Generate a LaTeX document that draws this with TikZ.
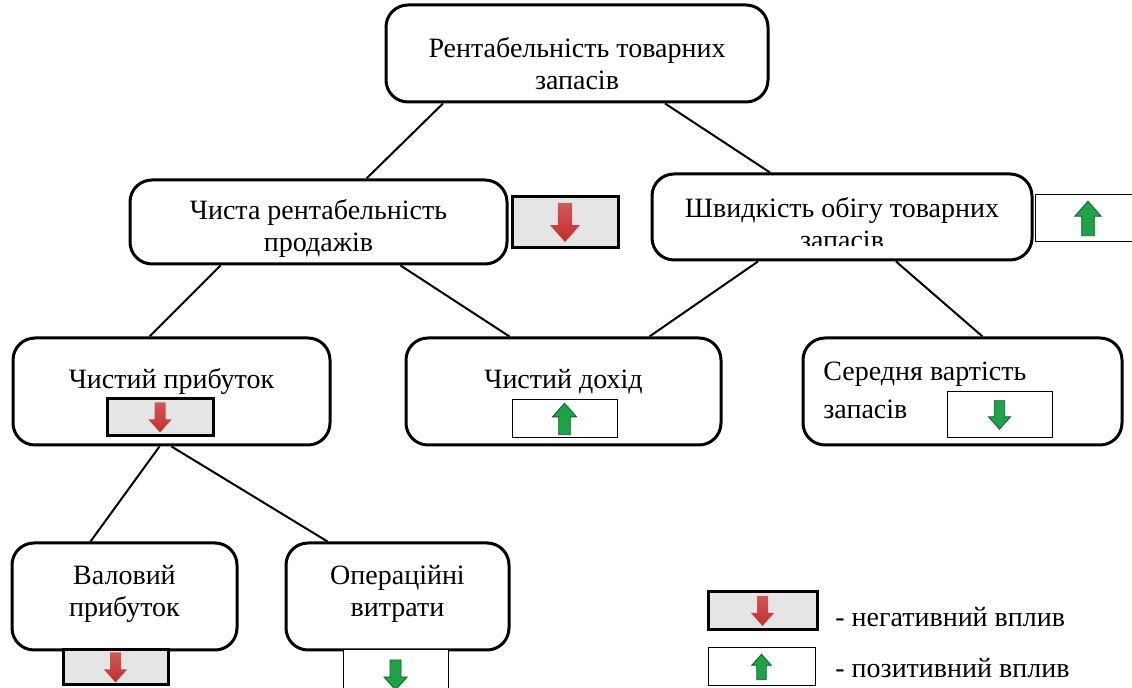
\documentclass[tikz,border=0pt]{standalone}
\usepackage{fontspec}
\setmainfont{Liberation Serif}

\definecolor{arrred}{HTML}{C42E2E}
\definecolor{arrgreen}{HTML}{1FA34A}

% block arrow in an indicator: centre, size, style
\newcommand{\trend}[3]{%
  \draw[shift={(#1)}, scale=#2, #3] (-5.5,-15) -- (5.5,-15) -- (5.5,2) -- (11.5,2)
    -- (0,15) -- (-11.5,2) -- (-5.5,2) -- cycle;}

\tikzset{
  box/.style = {draw, line width=1.5pt, rounded corners=11pt, inner sep=0pt},
  txt/.style = {align=center, inner sep=0pt, font=\fontsize{14}{16}\selectfont},
  negbox/.style = {draw, line width=1.5pt, fill=black!10, inner sep=0pt},
  posbox/.style = {draw, line width=0.5pt, fill=white, inner sep=0pt},
  link/.style = {line width=1pt},
  negarrow/.style = {top color=arrred!80!white, bottom color=arrred, draw=none},
  posarrow/.style = {fill=arrgreen, draw=arrgreen!55!black, line width=0.4pt},
  upward/.style = {yscale=-1}
}

\begin{document}
\begin{tikzpicture}[x=0.5pt, y=-0.5pt]
    \clip (0,0) rectangle (1132,688);

    % boxes
    \node[box, minimum width=191pt, minimum height=48.5pt] (rent) at (577,53.5) {};
    \node[box, minimum width=188.5pt, minimum height=42pt] (margin) at (318.5,222) {};
    \node[box, minimum width=190pt, minimum height=43pt] (turnover) at (842,217) {};
    \node[box, minimum width=158.5pt, minimum height=53.5pt] (netprofit) at (171.5,391.5) {};
    \node[box, minimum width=157.5pt, minimum height=53.5pt] (revenue) at (563.5,391.5) {};
    \node[box, minimum width=159.5pt, minimum height=53.5pt] (avgstock) at (962.5,391.5) {};
    \node[box, minimum width=112.5pt, minimum height=53.5pt] (grossprofit) at (124.5,596.5) {};
    \node[box, minimum width=111.5pt, minimum height=53.5pt] (opex) at (397.5,596.5) {};

    % texts
    \node[txt] (renttxt) at (577,64) {Рентабельність товарних\\запасів};
    \node[txt] (margintxt) at (318.5,228) {Чиста рентабельність\\продажів};
    \begin{scope}
        \clip (652,174) rectangle (1032,246);
        \node[txt] (turnovertxt) at (842,223.5) {Швидкість обігу товарних\\запасів};
    \end{scope}
    \node[txt] (netprofittxt) at (171.5,382) {Чистий прибуток};
    \node[txt] (revenuetxt) at (563.5,382) {Чистий дохід};
    \node[txt, align=left, anchor=west] (avgstocktxt) at (823,390) {Середня вартість\\[3pt]запасів};
    \node[txt] (grossprofittxt) at (124.5,593.5) {Валовий\\прибуток};
    \node[txt] (opextxt) at (397.5,593.5) {Операційні\\витрати};

    % links
    \draw[link] ([xshift=-67pt]rent.south) -- ([xshift=24pt]margin.north);
    \draw[link] ([xshift=44pt]rent.south) -- ([xshift=-36pt]turnover.north);
    \draw[link] ([xshift=-49pt]margin.south) -- ([xshift=-11pt]netprofit.north);
    \draw[link] ([xshift=41pt]margin.south) -- ([xshift=-27pt]revenue.north);
    \draw[link] ([xshift=-42pt]turnover.south) -- ([xshift=43pt]revenue.north);
    \draw[link] ([xshift=27pt]turnover.south) -- ([xshift=10pt]avgstock.north);
    \draw[link] ([xshift=-6pt]netprofit.south) -- ([xshift=-17pt]grossprofit.north);
    \draw[link] ([xshift=0pt]netprofit.south) -- ([xshift=-35pt]opex.north);

    %%%%%%%%%%%%%%%%%%%%
    % indicators
    \node[negbox, minimum width=53pt, minimum height=25.5pt] (marginind) at (565,222.5) {};
    \trend{marginind.center}{1.3}{negarrow}
    \node[posbox, minimum width=53pt, minimum height=23.5pt] (turnoverind) at (1088,218.5) {};
    \trend{turnoverind.center}{1.15}{posarrow, upward}
    \node[negbox, minimum width=53pt, minimum height=18.5pt] (netprofitind) at (160,417.5) {};
    \trend{netprofitind.center}{1}{negarrow}
    \node[posbox, minimum width=52.5pt, minimum height=19pt] (revenueind) at (564.5,419) {};
    \trend{revenueind.center}{1.05}{posarrow, upward}
    \node[posbox, minimum width=52.5pt, minimum height=23pt] (avgstockind) at (999.5,415) {};
    \trend{avgstockind.center}{0.95}{posarrow}
    \node[negbox, minimum width=52.5pt, minimum height=17.5pt] (grossprofitind) at (115.5,667.5) {};
    \trend{grossprofitind.center}{1}{negarrow}
    \node[posbox, minimum width=52.5pt, minimum height=25pt] (opexind) at (395.5,675) {};
    \trend{opexind.center}{1}{posarrow}

    % legend
    \node[negbox, minimum width=54.5pt, minimum height=19pt] (legneg) at (762.5,611) {};
    \trend{legneg.center}{1}{negarrow}
    \node[posbox, minimum width=53.5pt, minimum height=19pt] (legpos) at (761.5,667) {};
    \trend{legpos.center}{0.85}{posarrow, upward}
    \node[txt, anchor=west] (legnegtxt) at (835,617) {- негативний вплив};
    \node[txt, anchor=west] (legpostxt) at (835,668) {- позитивний вплив};
\end{tikzpicture}
\end{document}
